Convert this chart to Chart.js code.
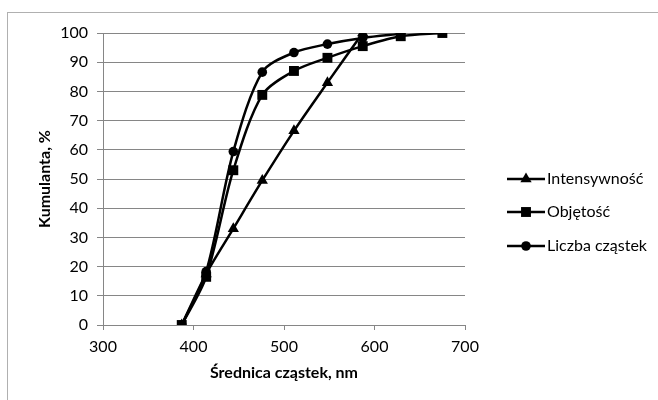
<!DOCTYPE html>
<html>
<head>
<meta charset="utf-8">
<script src="https://cdn.jsdelivr.net/npm/chart.js@4"></script>
<style>
  body { margin: 0; background: #fff; }
</style>
</head>
<body>
<canvas id="chart" width="658" height="400"></canvas>
<script>
// diameters (nm) and cumulative values (%)
const intensX = [387, 414, 444, 476, 511, 548, 587];
const intensY = [0, 17.5, 33, 49.5, 66.5, 83, 100];

const objX = [387, 414, 444, 476, 511, 548, 587, 629, 675];
const objY = [0, 16.5, 53, 78.8, 87, 91.5, 95.5, 98.9, 100];

const liczbaX = [387, 414, 444, 476, 511, 548, 587, 629];
const liczbaY = [0, 18.3, 59.4, 86.6, 93.3, 96.2, 98.3, 99.7];

const seriesNames = ['Intensywność', 'Objętość', 'Liczba cząstek'];
const xTicks = [300, 400, 500, 600, 700];

const FONT = 'Lato';
const FSIZE = 16;
const GRID = '#868686';

const toPoints = (xs, ys) => xs.map((x, i) => ({ x: x, y: ys[i] }));

const makeSet = (label, xs, ys, style, radius) => ({
    label: label,
    data: toPoints(xs, ys),
    borderColor: '#000',
    backgroundColor: '#000',
    borderWidth: 2.5,
    pointStyle: style,
    pointRadius: radius,
    pointHoverRadius: radius,
    pointBorderWidth: 0,
    tension: 0.3,
    fill: false
});

// legend drawn by hand: line with marker, text on the right
const sideLegend = {
    id: 'sideLegend',
    afterDraw(chart) {
        const ctx = chart.ctx;
        const rows = [179, 212, 246];
        ctx.save();
        chart.data.datasets.forEach((ds, i) => {
            const y = rows[i];
            ctx.strokeStyle = '#000';
            ctx.lineWidth = 2.5;
            ctx.beginPath();
            ctx.moveTo(507, y);
            ctx.lineTo(545, y);
            ctx.stroke();
            ctx.fillStyle = '#000';
            Chart.helpers.drawPoint(ctx, {
                pointStyle: ds.pointStyle,
                radius: ds.pointRadius,
                borderWidth: 0
            }, 526, y);
            ctx.font = FSIZE + 'px ' + FONT;
            ctx.textBaseline = 'middle';
            ctx.textAlign = 'left';
            ctx.fillText(ds.label, 547, y);
        });
        ctx.restore();
    }
};

// the outer frame of the chart, it runs off the right and bottom
const frame = {
    id: 'frame',
    beforeDraw(chart) {
        const ctx = chart.ctx;
        ctx.save();
        ctx.strokeStyle = '#b0b0b0';
        ctx.lineWidth = 1;
        ctx.strokeRect(7.5, 12.5, 700, 500);
        ctx.restore();
    }
};

new Chart(document.getElementById('chart'), {
    type: 'line',
    data: {
        datasets: [
            makeSet(seriesNames[0], intensX, intensY, 'triangle', 6.5),
            makeSet(seriesNames[1], objX, objY, 'rect', 7),
            makeSet(seriesNames[2], liczbaX, liczbaY, 'circle', 4.8)
        ]
    },
    options: {
        responsive: false,
        animation: false,
        devicePixelRatio: 1,
        layout: { padding: { left: 0, top: 33, right: 193, bottom: 0 } },
        plugins: {
            legend: { display: false },
            tooltip: { enabled: false }
        },
        scales: {
            x: {
                type: 'linear',
                min: 300,
                max: 700,
                afterBuildTicks: (scale) => { scale.ticks = xTicks.map(v => ({ value: v })); },
                afterFit: (scale) => { scale.height = 75; },
                grid: { drawOnChartArea: false, color: GRID, tickLength: 5 },
                border: { color: GRID },
                ticks: { color: '#000', padding: 7, font: { family: FONT, size: FSIZE } },
                title: {
                    display: true,
                    text: 'Średnica cząstek, nm',
                    color: '#000',
                    font: { family: FONT, size: FSIZE, weight: 'bold' },
                    padding: { top: 4, bottom: 18 }
                }
            },
            y: {
                min: 0,
                max: 100,
                afterFit: (scale) => { scale.width = 103; },
                grid: { color: GRID, tickLength: 6 },
                border: { color: GRID },
                ticks: { stepSize: 10, color: '#000', padding: 9, font: { family: FONT, size: FSIZE } },
                title: {
                    display: true,
                    text: 'Kumulanta, %',
                    color: '#000',
                    font: { family: FONT, size: FSIZE, weight: 'bold' },
                    padding: { top: 35, bottom: 0 }
                }
            }
        }
    },
    plugins: [frame, sideLegend]
});
</script>
</body>
</html>
